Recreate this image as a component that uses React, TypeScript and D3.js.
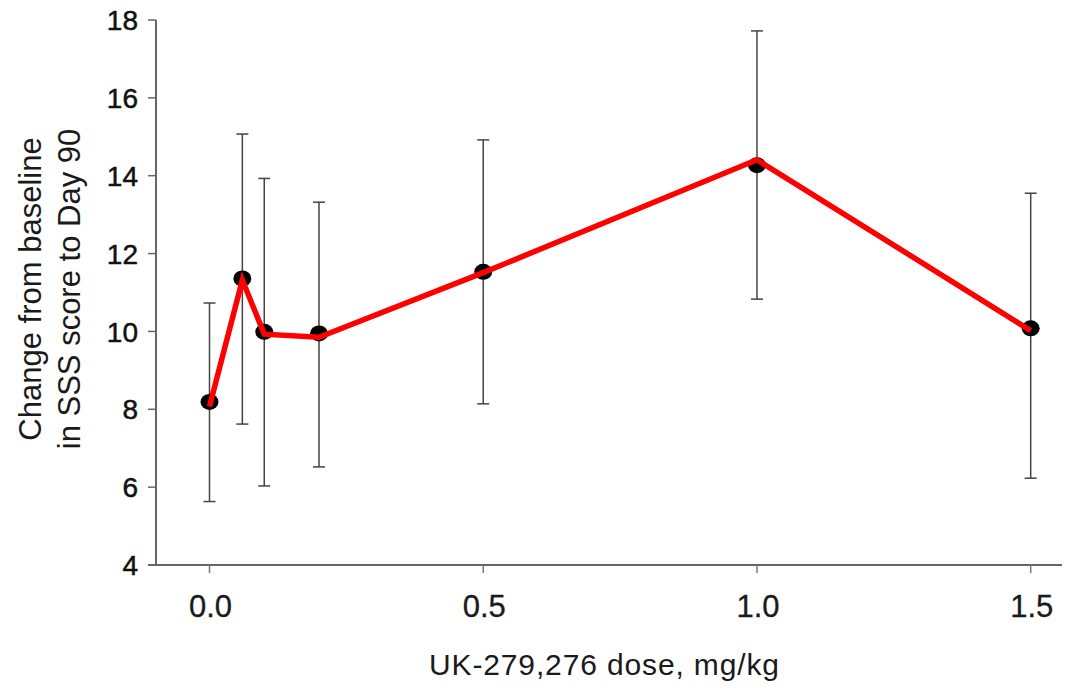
import React from "react";
import * as d3 from "d3";

// dose levels (mg/kg) and the readings taken off the figure
const doses = [0, 0.06, 0.1, 0.2, 0.5, 1.0, 1.5];
const means = [8.19, 11.36, 9.99, 9.95, 11.53, 14.27, 10.08];
const upper = [10.73, 15.07, 13.93, 13.32, 14.92, 17.72, 13.55];
const lower = [5.63, 7.62, 6.03, 6.52, 8.14, 10.83, 6.23];
// the red trace was drawn on top and is a touch off the dots
const lineValues = [8.07, 11.32, 9.93, 9.85, 11.51, 14.41, 10.02];

const xTicks = [0, 0.5, 1.0, 1.5];
const yTicks = [4, 6, 8, 10, 12, 14, 16, 18];

const width = 1074;
const height = 690;
const font = "'Liberation Sans', Arial, Helvetica, sans-serif";

const App: React.FC = () => {
  const x = d3.scaleLinear().domain([0, 1.5]).range([209.5, 1030.7]);
  const y = d3.scaleLinear().domain([4, 18]).range([565, 20]);
  const axisX = 156;
  const axisY = y(4);

  const line = d3
    .line<number>()
    .x((_, i) => x(doses[i]))
    .y((d) => y(d));

  const capHalf = 6;

  return (
    <svg
      width={width}
      height={height}
      style={{ display: "block", position: "absolute", left: 0, top: 0, background: "#fff" }}
    >
      {/* y axis */}
      <line x1={axisX} x2={axisX} y1={y(18)} y2={axisY} stroke="#666" strokeWidth={2} />
      {yTicks.map((t) => (
        <g key={"y" + t}>
          <line x1={axisX - 8} x2={axisX} y1={y(t)} y2={y(t)} stroke="#666" strokeWidth={1.5} />
          <text
            x={138}
            y={y(t)}
            dy="0.36em"
            textAnchor="end"
            fontFamily={font}
            fontSize={28}
            fill="#111"
            stroke="#111"
            strokeWidth={0.5}
          >
            {t}
          </text>
        </g>
      ))}

      {/* x axis */}
      <line x1={148} x2={1062} y1={axisY} y2={axisY} stroke="#666" strokeWidth={2} />
      {xTicks.map((t) => (
        <g key={"x" + t}>
          <line x1={x(t)} x2={x(t)} y1={axisY} y2={axisY + 8} stroke="#777" strokeWidth={1.5} />
          <text
            x={x(t) + 1}
            y={617}
            textAnchor="middle"
            fontFamily={font}
            fontSize={31}
            fill="#1a1a1a"
            stroke="#1a1a1a"
            strokeWidth={0.3}
          >
            {d3.format(".1f")(t)}
          </text>
        </g>
      ))}

      {/* axis titles */}
      <text
        x={604}
        y={675}
        textAnchor="middle"
        fontFamily={font}
        fontSize={30}
        fill="#1a1a1a"
        textLength={350}
        lengthAdjust="spacing"
      >
        UK-279,276 dose, mg/kg
      </text>
      <g transform="translate(41,289) rotate(-90)">
        <text x={0} y={0} textAnchor="middle" fontFamily={font} fontSize={31} fill="#1a1a1a">
          Change from baseline
        </text>
        <text x={0} y={39} textAnchor="middle" fontFamily={font} fontSize={31} fill="#1a1a1a">
          in SSS score to Day 90
        </text>
      </g>

      {/* error bars */}
      {doses.map((d, i) => (
        <g key={"e" + i} stroke="#444" strokeWidth={1.5}>
          <line x1={x(d)} x2={x(d)} y1={y(upper[i])} y2={y(lower[i])} />
          <line x1={x(d) - capHalf} x2={x(d) + capHalf} y1={y(upper[i])} y2={y(upper[i])} />
          <line x1={x(d) - capHalf} x2={x(d) + capHalf} y1={y(lower[i])} y2={y(lower[i])} />
        </g>
      ))}

      {/* mean markers */}
      {doses.map((d, i) => (
        <ellipse key={"m" + i} cx={x(d)} cy={y(means[i])} rx={9} ry={8} fill="#000" />
      ))}

      {/* red connecting line */}
      <path
        d={line(lineValues) ?? ""}
        fill="none"
        stroke="#ff0000"
        strokeWidth={5.5}
        strokeLinejoin="miter"
      />
    </svg>
  );
};

export default App;
